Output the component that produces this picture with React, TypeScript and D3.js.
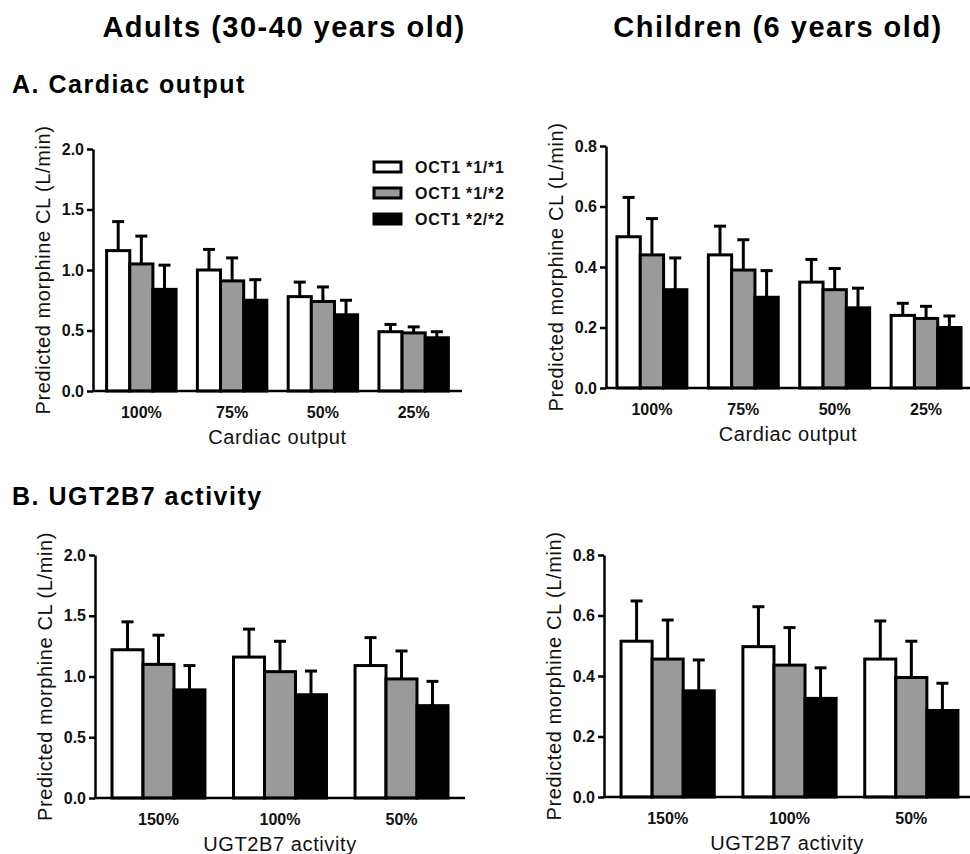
import React, { useEffect, useRef } from "react";
import * as d3 from "d3";

const genotypes = ["OCT1 *1/*1", "OCT1 *1/*2", "OCT1 *2/*2"];
const genotypeFills = ["#ffffff", "#9a9a9a", "#000000"];

const cardiacCategories = ["100%", "75%", "50%", "25%"];
const ugtCategories = ["150%", "100%", "50%"];

const adultsTicks = [0, 0.5, 1.0, 1.5, 2.0];
const childrenTicks = [0, 0.2, 0.4, 0.6, 0.8];

// A. cardiac output, adults (mean, sd)
const adultsCardiac11 = [1.16, 1.0, 0.78, 0.49];
const adultsCardiac12 = [1.05, 0.91, 0.74, 0.48];
const adultsCardiac22 = [0.84, 0.75, 0.63, 0.44];
const adultsCardiacSd11 = [0.24, 0.17, 0.12, 0.06];
const adultsCardiacSd12 = [0.23, 0.19, 0.12, 0.05];
const adultsCardiacSd22 = [0.2, 0.17, 0.12, 0.05];

// A. cardiac output, children
const childrenCardiac11 = [0.5, 0.44, 0.35, 0.24];
const childrenCardiac12 = [0.44, 0.39, 0.325, 0.23];
const childrenCardiac22 = [0.325, 0.3, 0.265, 0.2];
const childrenCardiacSd11 = [0.13, 0.095, 0.075, 0.04];
const childrenCardiacSd12 = [0.12, 0.1, 0.07, 0.04];
const childrenCardiacSd22 = [0.105, 0.088, 0.065, 0.038];

// B. UGT2B7 activity, adults
const adultsUgt11 = [1.22, 1.16, 1.09];
const adultsUgt12 = [1.1, 1.04, 0.98];
const adultsUgt22 = [0.89, 0.85, 0.76];
const adultsUgtSd11 = [0.23, 0.23, 0.23];
const adultsUgtSd12 = [0.24, 0.25, 0.23];
const adultsUgtSd22 = [0.2, 0.195, 0.2];

// B. UGT2B7 activity, children
const childrenUgt11 = [0.515, 0.497, 0.456];
const childrenUgt12 = [0.456, 0.436, 0.395];
const childrenUgt22 = [0.351, 0.326, 0.286];
const childrenUgtSd11 = [0.133, 0.132, 0.126];
const childrenUgtSd12 = [0.129, 0.124, 0.12];
const childrenUgtSd22 = [0.102, 0.101, 0.09];

const FONT = "'Liberation Sans', Arial, Helvetica, sans-serif";
const yTitle = "Predicted morphine CL (L/min)";

function drawPanel(svg: any, p: any) {
  const g = svg.append("g");

  const x0 = d3
    .scaleBand()
    .domain(p.categories)
    .range([p.left, p.bandRight])
    .paddingInner(0.235)
    .paddingOuter(p.padOuter);
  const x1 = d3.scaleBand().domain(genotypes).range([0, x0.bandwidth()]);
  const y = d3.scaleLinear().domain([0, p.yMax]).range([p.bottom, p.top]);

  const rows = p.categories.map((c: string, i: number) => ({
    cat: c,
    items: genotypes.map((gt, j) => ({
      gt,
      j,
      mean: p.means[j][i],
      sd: p.sds[j][i]
    }))
  }));

  const groups = g
    .selectAll(".grp")
    .data(rows)
    .enter()
    .append("g")
    .attr("class", "grp")
    .attr("transform", (d: any) => `translate(${x0(d.cat)},0)`);

  // error bars (upper only)
  groups
    .selectAll(".err")
    .data((d: any) => d.items)
    .enter()
    .append("line")
    .attr("x1", (d: any) => x1(d.gt)! + x1.bandwidth() / 2)
    .attr("x2", (d: any) => x1(d.gt)! + x1.bandwidth() / 2)
    .attr("y1", (d: any) => y(d.mean))
    .attr("y2", (d: any) => y(d.mean + d.sd))
    .attr("stroke", "#000")
    .attr("stroke-width", 3);

  groups
    .selectAll(".cap")
    .data((d: any) => d.items)
    .enter()
    .append("line")
    .attr("x1", (d: any) => x1(d.gt)! + x1.bandwidth() / 2 - 6)
    .attr("x2", (d: any) => x1(d.gt)! + x1.bandwidth() / 2 + 6)
    .attr("y1", (d: any) => y(d.mean + d.sd))
    .attr("y2", (d: any) => y(d.mean + d.sd))
    .attr("stroke", "#000")
    .attr("stroke-width", 3);

  groups
    .selectAll(".bar")
    .data((d: any) => d.items)
    .enter()
    .append("rect")
    .attr("x", (d: any) => x1(d.gt))
    .attr("y", (d: any) => y(d.mean))
    .attr("width", x1.bandwidth())
    .attr("height", (d: any) => y(0) - y(d.mean))
    .attr("fill", (d: any) => genotypeFills[d.j])
    .attr("stroke", "#000")
    .attr("stroke-width", 3);

  // y axis
  const yAxis = g
    .append("g")
    .attr("transform", `translate(${p.left},0)`)
    .call(
      d3
        .axisLeft(y)
        .tickValues(p.ticks)
        .tickFormat(d3.format(".1f"))
        .tickSize(6)
        .tickPadding(3)
        .tickSizeOuter(0)
    );
  yAxis.select(".domain").attr("stroke", "#000").attr("stroke-width", 2.5);
  yAxis.selectAll(".tick line").attr("stroke", "#000").attr("stroke-width", 2.5);
  yAxis
    .selectAll(".tick text")
    .attr("font-family", FONT)
    .attr("font-size", 16)
    .attr("font-weight", "bold")
    .attr("fill", "#111");

  // x axis line
  g.append("line")
    .attr("x1", p.left - 1)
    .attr("x2", p.axisRight)
    .attr("y1", p.bottom)
    .attr("y2", p.bottom)
    .attr("stroke", "#000")
    .attr("stroke-width", 2.5);

  // x tick labels
  g.selectAll(".xlab")
    .data(p.categories)
    .enter()
    .append("text")
    .attr("x", (d: any) => x0(d)! + x0.bandwidth() / 2)
    .attr("y", p.bottom + 27)
    .attr("text-anchor", "middle")
    .attr("font-family", FONT)
    .attr("font-size", 16)
    .attr("font-weight", "bold")
    .attr("fill", "#111")
    .text((d: any) => d);

  // axis titles
  g.append("text")
    .attr("x", (p.left + p.axisRight) / 2)
    .attr("y", p.bottom + 53)
    .attr("text-anchor", "middle")
    .attr("font-family", FONT)
    .attr("font-size", 20)
    .attr("letter-spacing", 0.6)
    .attr("fill", "#111")
    .text(p.xTitle);

  g.append("text")
    .attr("transform", `translate(${p.left - 43},${(p.top + p.bottom) / 2}) rotate(-90)`)
    .attr("text-anchor", "middle")
    .attr("font-family", FONT)
    .attr("font-size", 20)
    .attr("letter-spacing", 0.6)
    .attr("fill", "#111")
    .text(yTitle);
}

export default function App() {
  const ref = useRef<SVGSVGElement>(null);

  useEffect(() => {
    const svg = d3.select(ref.current);
    svg.selectAll("*").remove();

    // column headers
    svg
      .append("text")
      .attr("x", 284)
      .attr("y", 37)
      .attr("text-anchor", "middle")
      .attr("font-family", FONT)
      .attr("font-size", 29)
      .attr("font-weight", "bold")
      .attr("letter-spacing", 1.5)
      .text("Adults (30-40 years old)");
    svg
      .append("text")
      .attr("x", 778)
      .attr("y", 37)
      .attr("text-anchor", "middle")
      .attr("font-family", FONT)
      .attr("font-size", 29)
      .attr("font-weight", "bold")
      .attr("letter-spacing", 1.5)
      .text("Children (6 years old)");

    // section labels
    svg
      .append("text")
      .attr("x", 12)
      .attr("y", 93)
      .attr("font-family", FONT)
      .attr("font-size", 25)
      .attr("font-weight", "bold")
      .attr("letter-spacing", 1.5)
      .text("A. Cardiac output");
    svg
      .append("text")
      .attr("x", 12)
      .attr("y", 505)
      .attr("font-family", FONT)
      .attr("font-size", 25)
      .attr("font-weight", "bold")
      .attr("letter-spacing", 1.5)
      .text("B. UGT2B7 activity");

    drawPanel(svg, {
      categories: cardiacCategories,
      means: [adultsCardiac11, adultsCardiac12, adultsCardiac22],
      sds: [adultsCardiacSd11, adultsCardiacSd12, adultsCardiacSd22],
      ticks: adultsTicks,
      yMax: 2.0,
      left: 93,
      top: 149,
      bottom: 391,
      bandRight: 462,
      axisRight: 462,
      padOuter: 0.15,
      xTitle: "Cardiac output"
    });
    drawPanel(svg, {
      categories: cardiacCategories,
      means: [childrenCardiac11, childrenCardiac12, childrenCardiac22],
      sds: [childrenCardiacSd11, childrenCardiacSd12, childrenCardiacSd22],
      ticks: childrenTicks,
      yMax: 0.8,
      left: 606,
      top: 146,
      bottom: 388,
      bandRight: 972,
      axisRight: 970,
      padOuter: 0.12,
      xTitle: "Cardiac output"
    });
    drawPanel(svg, {
      categories: ugtCategories,
      means: [adultsUgt11, adultsUgt12, adultsUgt22],
      sds: [adultsUgtSd11, adultsUgtSd12, adultsUgtSd22],
      ticks: adultsTicks,
      yMax: 2.0,
      left: 95,
      top: 555,
      bottom: 798,
      bandRight: 465,
      axisRight: 465,
      padOuter: 0.14,
      xTitle: "UGT2B7 activity"
    });
    drawPanel(svg, {
      categories: ugtCategories,
      means: [childrenUgt11, childrenUgt12, childrenUgt22],
      sds: [childrenUgtSd11, childrenUgtSd12, childrenUgtSd22],
      ticks: childrenTicks,
      yMax: 0.8,
      left: 604,
      top: 555,
      bottom: 797,
      bandRight: 975,
      axisRight: 970,
      padOuter: 0.14,
      xTitle: "UGT2B7 activity"
    });

    // legend
    const legend = svg
      .append("g")
      .selectAll(".leg")
      .data(genotypes)
      .enter()
      .append("g")
      .attr("transform", (d, i) => `translate(374,${167 + i * 26})`);
    legend
      .append("rect")
      .attr("x", 0)
      .attr("y", -5)
      .attr("width", 27)
      .attr("height", 10)
      .attr("fill", (d, i) => genotypeFills[i])
      .attr("stroke", "#000")
      .attr("stroke-width", 3);
    legend
      .append("text")
      .attr("x", 41)
      .attr("y", 6)
      .attr("font-family", FONT)
      .attr("font-size", 16)
      .attr("font-weight", "bold")
      .attr("letter-spacing", 0.8)
      .attr("fill", "#111")
      .text(d => d);
  }, []);

  return (
    <div style={{ position: "absolute", left: 0, top: 0 }}>
      <svg ref={ref} width={970} height={854} style={{ display: "block", background: "#fff" }} />
    </div>
  );
}
